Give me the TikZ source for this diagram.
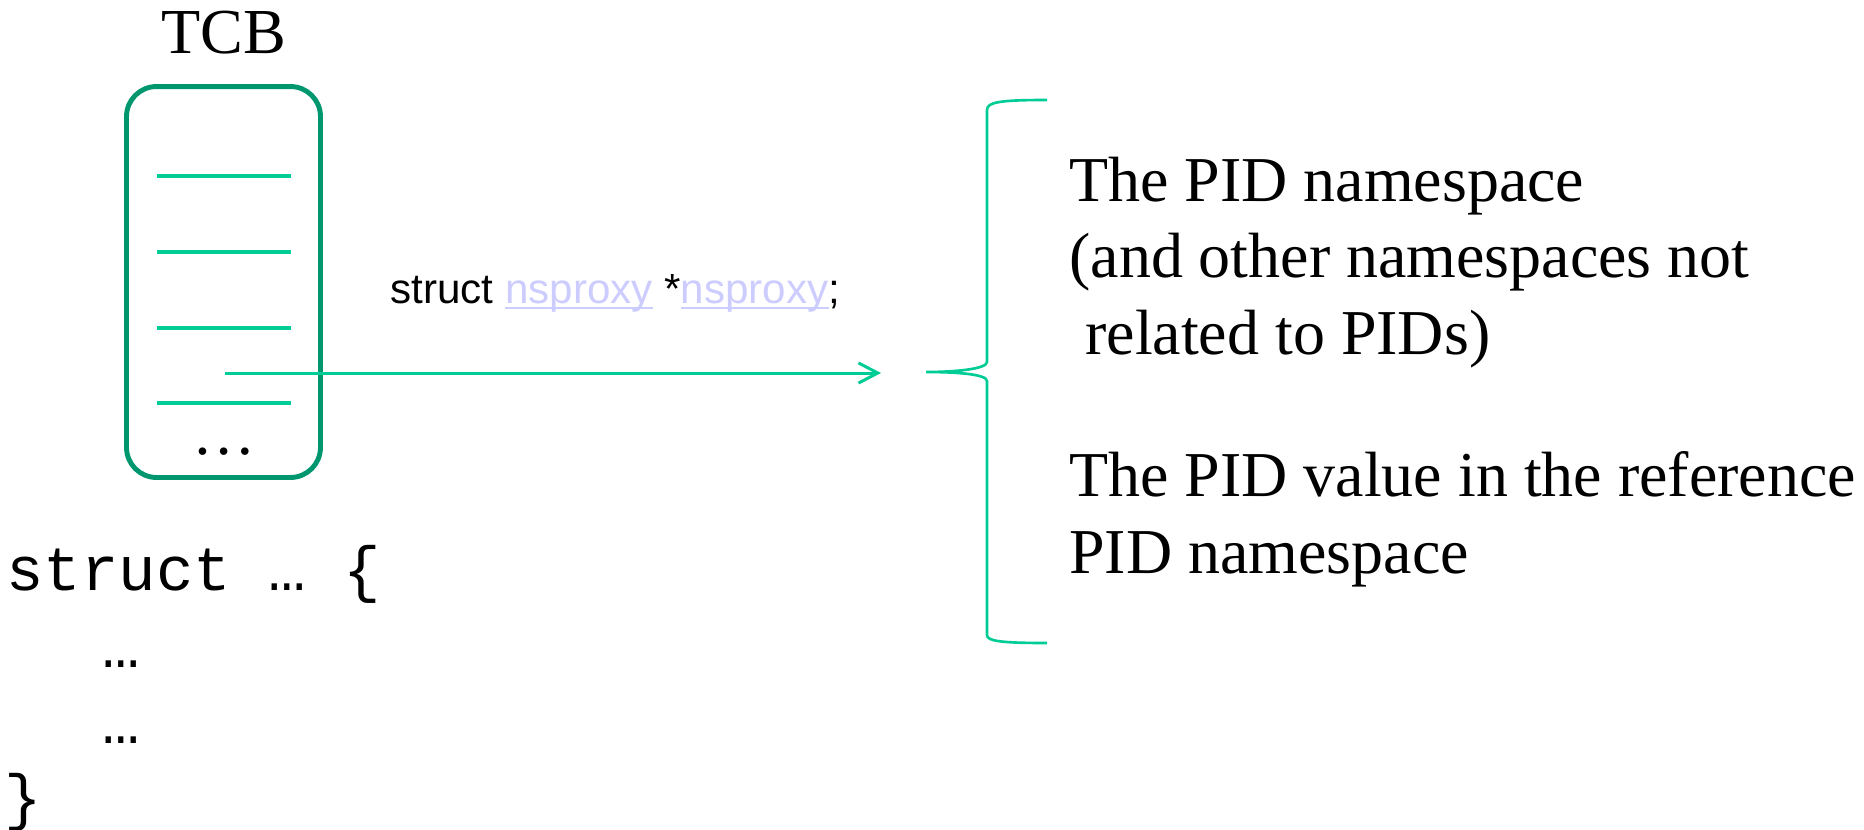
\documentclass[tikz,border=0pt]{standalone}
\usepackage{fontspec}
\setmainfont{Liberation Serif}
\newfontfamily\sansfont{Liberation Sans}
\newfontfamily\codefont{Liberation Mono}
\usetikzlibrary{arrows.meta, positioning}
\definecolor{tcbgreen}{HTML}{00966E}
\definecolor{fieldgreen}{HTML}{00CC96}
\definecolor{linkblue}{HTML}{CCCCFF}
\newcommand{\linkul}[1]{\leavevmode\setbox0\hbox{#1}\rlap{\rule[-3.2pt]{\wd0}{1pt}}\box0}

\begin{document}
\begin{tikzpicture}[x=0.02cm, y=-0.02cm,
    tcbbox/.style={draw=tcbgreen, line width=2.8pt, rounded corners=0.6cm,
        minimum width=3.88cm, minimum height=7.82cm, inner sep=0pt},
    field/.style={fieldgreen, line width=2.2pt},
    pointer/.style={fieldgreen, line width=1.7pt, -{Straight Barb[length=11pt, width=11.5pt]}},
    brace/.style={fieldgreen, line width=1.5pt},
    desc/.style={font=\fontsize{36.4}{43.3}\selectfont, align=left, inner sep=0pt},
    code/.style={font=\codefont\fontsize{35.5}{43.5}\selectfont, inner sep=0pt}]
    \useasboundingbox (0,0) rectangle (1864,829);
    % TCB
    \node[tcbbox] (tcb) at (223.5,282) {};
    \node[font=\fontsize{36.5}{40}\selectfont, inner sep=0pt] (tcblabel) [above=0.6cm of tcb] {TCB};
    \foreach \y in {176,252,328,403}
        \draw[field] (157,\y) -- (291,\y);
    \node[font=\fontsize{36}{40}\selectfont, inner sep=0pt, anchor=base] (dots) at (224,454) {…};
    % pointer
    \coordinate (ptr) at (225,373);
    \coordinate (target) at (881,373);
    \draw[pointer] (ptr) -- (target);
    \node[font=\sansfont\fontsize{24}{28}\selectfont, inner sep=0pt, anchor=base west] (member) at (390,303)
        {struct \textcolor{linkblue}{\linkul{nsproxy}} *\textcolor{linkblue}{\linkul{nsproxy}};};
    % brace
    \coordinate (bracetip) at (926,372);
    \draw[brace] (1047,100) .. controls (1000,100) and (987,102) .. (987,110) -- (987,362)
        .. controls (987,369) and (955,372) .. (bracetip)
        .. controls (955,372) and (987,374) .. (987,381) -- (987,635)
        .. controls (987,641) and (1000,643) .. (1047,643);
    % namespaces
    \node[desc, anchor=base west] (pidns) at (1069,354)
        {The PID namespace\\(and other namespaces not\\\ related to PIDs)};
    \node[desc, anchor=base west] (pidval) at (1069,573)
        {The PID value in the reference\\PID namespace};
    % struct
    \node[code, anchor=base west] (code1) at (6,590) {struct … \{};
    \node[code, anchor=base] (code2) at (121,667) {…};
    \node[code, anchor=base] (code3) at (121,743) {…};
    \node[code, anchor=base west] (code4) at (4,818) {\}};
\end{tikzpicture}
\end{document}
